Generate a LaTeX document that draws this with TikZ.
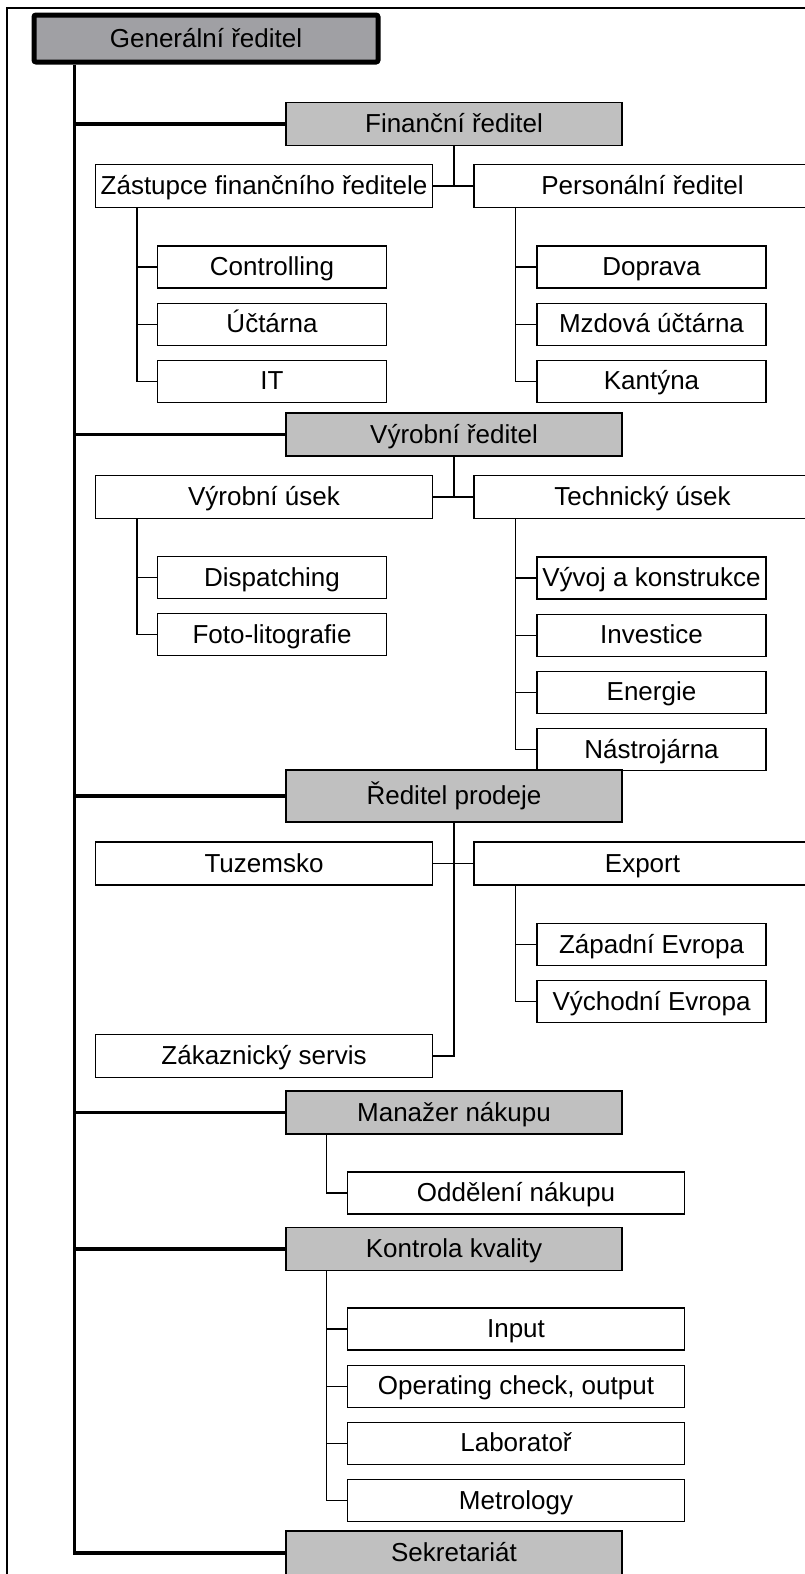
\documentclass[tikz,border=0pt]{standalone}
\usepackage{fontspec}
\setmainfont{Liberation Sans}
\usetikzlibrary{positioning}

\definecolor{tmava}{RGB}{160,160,164}
\definecolor{svetla}{RGB}{192,192,192}

\begin{document}
\begin{tikzpicture}
            [x=1pt,y=-1pt,node distance=14pt,
             every node/.style={font=\fontsize{26}{30}\selectfont,text height=20pt,text depth=3pt},
             box/.style={rectangle,draw,line width=1.2pt,inner sep=0pt,minimum height=42pt},
             reditel/.style={box,fill=tmava,line width=5pt,rounded corners=2pt,minimum width=344pt,minimum height=47pt},
             usek/.style={box,fill=svetla,minimum width=336pt,minimum height=43pt},
             oddel/.style={box,fill=white,minimum width=337pt,minimum height=43pt},
             maly/.style={box,fill=white,minimum width=229pt},
             siroky/.style={box,fill=white,minimum width=337pt},
             kmenova/.style={line width=3.2pt},
             spoj/.style={line width=1.4pt}]

            \useasboundingbox (0,0) rectangle (805,1574);
            \clip (0,0) rectangle (805,1574);
            \draw[line width=1.5pt] (7,8) rectangle (830,1600);

            \node (generalni) [reditel] at (206,38.5) {Generální ředitel};

            % financni
            \node (financni) [usek] at (454,124) {Finanční ředitel};
            \node (zastupce) [oddel] at (264,186) {Zástupce finančního ředitele};
            \node (personalni) [oddel] at (642.5,186) {Personální ředitel};
            \node (controlling) [maly] at (272,267) {Controlling};
            \node (uctarna) [maly,below=of controlling] {Účtárna};
            \node (it) [maly,below=of uctarna] {IT};
            \node (doprava) [maly] at (651.5,267) {Doprava};
            \node (mzdova) [maly,below=of doprava] {Mzdová účtárna};
            \node (kantyna) [maly,below=of mzdova] {Kantýna};

            % vyroba
            \node (vyrobni) [usek] at (454,434.5) {Výrobní ředitel};
            \node (vyrobniusek) [oddel] at (264,497) {Výrobní úsek};
            \node (technicky) [oddel] at (642.5,497) {Technický úsek};
            \node (dispatching) [maly] at (272,577.5) {Dispatching};
            \node (foto) [maly,below=of dispatching] {Foto-litografie};
            \node (vyvoj) [maly] at (651.5,578) {Vývoj a konstrukce};
            \node (investice) [maly,below=of vyvoj] {Investice};
            \node (energie) [maly,below=of investice] {Energie};
            \node (nastrojarna) [maly,below=of energie] {Nástrojárna};

            % prodej
            \node (prodej) [usek,minimum height=52pt] at (454,796) {Ředitel prodeje};
            \node (tuzemsko) [oddel] at (264,863.5) {Tuzemsko};
            \node (export) [oddel] at (642.5,863.5) {Export};
            \node (zapadni) [maly] at (651.5,944.5) {Západní Evropa};
            \node (vychodni) [maly,below=of zapadni] {Východní Evropa};
            \node (zakaznicky) [oddel] at (264,1056) {Zákaznický servis};

            % nakup a kvalita
            \node (nakup) [usek] at (454,1112.5) {Manažer nákupu};
            \node (oddeleni) [siroky] at (516,1193) {Oddělení nákupu};
            \node (kvalita) [usek] at (454,1249) {Kontrola kvality};
            \node (input) [siroky] at (516,1329) {Input};
            \node (operating) [siroky,below=of input] {Operating check, output};
            \node (laborator) [siroky,below=of operating] {Laboratoř};
            \node (metrology) [siroky,below=of laborator] {Metrology};

            \node (sekretariat) [usek,minimum height=44pt] at (454,1553) {Sekretariát};

            % kmen
            \coordinate (kmen) at ([xshift=43pt]generalni.south west);
            \draw[kmenova] (kmen) |- (sekretariat.west);
            \foreach \u in {financni,vyrobni,prodej,nakup,kvalita}
                \draw[kmenova] (\u.west) -- (\u.west -| kmen);

            % vetve
            \draw[spoj] (financni.south) -- (financni.south |- zastupce.east);
            \draw[spoj] (zastupce.east) -- (personalni.west);
            \draw[spoj] (vyrobni.south) -- (vyrobni.south |- vyrobniusek.east);
            \draw[spoj] (vyrobniusek.east) -- (technicky.west);
            \draw[spoj] (prodej.south) |- (zakaznicky.east);
            \draw[spoj] (tuzemsko.east) -- (export.west);

            % podrizeni
            \coordinate (z1) at ([xshift=42pt]zastupce.south west);
            \draw[spoj] (z1) |- (it.west);
            \foreach \n in {controlling,uctarna}
                \draw[spoj] (\n.west) -- (\n.west -| z1);

            \coordinate (p1) at ([xshift=42pt]personalni.south west);
            \draw[spoj] (p1) |- (kantyna.west);
            \foreach \n in {doprava,mzdova}
                \draw[spoj] (\n.west) -- (\n.west -| p1);

            \coordinate (v1) at ([xshift=42pt]vyrobniusek.south west);
            \draw[spoj] (v1) |- (foto.west);
            \draw[spoj] (dispatching.west) -- (dispatching.west -| v1);

            \coordinate (t1) at ([xshift=42pt]technicky.south west);
            \draw[spoj] (t1) |- (nastrojarna.west);
            \foreach \n in {vyvoj,investice,energie}
                \draw[spoj] (\n.west) -- (\n.west -| t1);

            \coordinate (e1) at ([xshift=42pt]export.south west);
            \draw[spoj] (e1) |- (vychodni.west);
            \draw[spoj] (zapadni.west) -- (zapadni.west -| e1);

            \coordinate (n1) at ([xshift=41pt]nakup.south west);
            \draw[spoj] (n1) |- (oddeleni.west);

            \coordinate (k1) at ([xshift=41pt]kvalita.south west);
            \draw[spoj] (k1) |- (metrology.west);
            \foreach \n in {input,operating,laborator}
                \draw[spoj] (\n.west) -- (\n.west -| k1);
        \end{tikzpicture}
\end{document}
